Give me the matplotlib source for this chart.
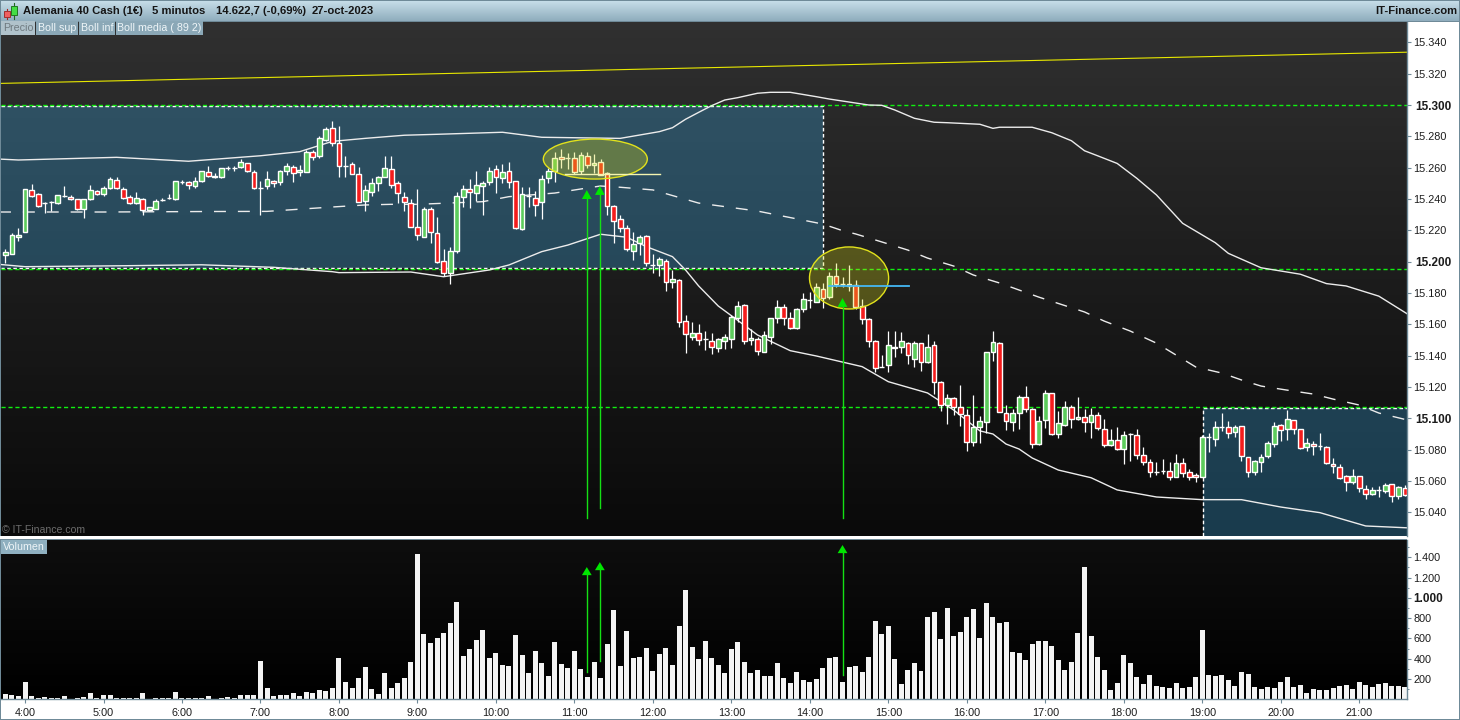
import numpy as np
import matplotlib
matplotlib.use("Agg")
import matplotlib.pyplot as plt
from matplotlib.colors import LinearSegmentedColormap
from matplotlib.patches import Rectangle, Ellipse, Polygon
from matplotlib.ticker import FixedLocator, FixedFormatter

plt.rcParams['font.family'] = ['Liberation Sans', 'DejaVu Sans']
plt.rcParams['lines.scale_dashes'] = False

title_parts = ["Alemania 40 Cash (1€)", "5 minutos", "14.622,7 (-0,69%)", "27-oct-2023"]
time_labels = ["4:00","5:00","6:00","7:00","8:00","9:00","10:00","11:00","12:00","13:00",
               "14:00","15:00","16:00","17:00","18:00","19:00","20:00","21:00"]
time_bars = [3 + 12*i for i in range(18)]
price_ticks = [15040,15060,15080,15100,15120,15140,15160,15180,15200,15220,15240,15260,15280,15300,15320,15340]
vol_ticks = [200,400,600,800,1000,1200,1400]

opens = [
15204.4,15205.0,15215.5,15219.1,15245.5,15243.0,15237.6,15238.0,15237.2,15242.0,
15241.0,15239.7,15233.8,15239.7,15244.9,15243.4,15246.8,15251.9,15246.1,15241.0,
15237.2,15239.7,15232.7,15233.9,15239.3,15240.6,15239.7,15251.0,15250.6,15248.5,
15251.2,15257.0,15255.0,15253.8,15260.0,15260.0,15260.2,15262.7,15257.0,15247.2,
15248.0,15251.2,15250.6,15258.0,15260.2,15257.0,15257.4,15269.7,15267.2,15277.6,
15285.3,15275.5,15261.3,15262.1,15255.7,15239.0,15244.7,15250.4,15254.3,15258.9,
15250.0,15241.5,15237.7,15222.3,15216.0,15233.4,15218.0,15200.2,15192.5,15207.0,
15241.0,15246.2,15244.0,15248.5,15250.6,15259.0,15253.6,15257.7,15251.3,15220.8,
15241.7,15240.4,15238.3,15253.2,15258.1,15266.6,15266.0,15266.0,15258.0,15267.2,
15261.5,15263.4,15256.4,15235.3,15227.0,15221.3,15207.0,15211.7,15216.2,15197.9,
15198.0,15200.6,15187.3,15188.5,15162.3,15152.2,15154.2,15150.4,15149.6,15145.0,
15149.6,15150.8,15163.8,15172.3,15149.8,15150.4,15142.5,15152.1,15163.8,15170.8,
15163.8,15157.4,15169.5,15175.3,15174.4,15182.7,15177.6,15190.6,15186.0,15186.0,
15184.9,15171.9,15163.6,15149.1,15133.0,15133.8,15145.7,15145.3,15148.3,15137.6,
15147.8,15135.7,15146.6,15123.4,15108.7,15113.2,15107.5,15101.9,15085.1,15094.7,
15097.9,15142.2,15147.9,15103.6,15097.7,15103.2,15113.4,15105.8,15083.6,15099.0,
15116.0,15090.0,15096.0,15107.0,15099.4,15101.1,15097.5,15101.9,15093.0,15082.8,
15086.0,15080.7,15090.2,15089.6,15076.4,15071.9,15065.8,15066.6,15066.2,15062.8,
15071.7,15065.6,15064.1,15062.8,15088.3,15087.0,15094.5,15094.3,15091.5,15094.9,
15075.1,15066.0,15072.4,15075.8,15083.4,15095.6,15093.0,15098.7,15093.0,15081.5,
15083.4,15082.6,15081.5,15070.7,15069.2,15063.2,15059.4,15063.2,15054.7,15052.0,
15054.0,15053.8,15057.9,15050.4,15055.8]
highs = [
15208.0,15218.0,15221.2,15246.4,15249.5,15244.0,15238.0,15238.7,15242.5,15248.3,
15242.3,15240.0,15240.0,15248.7,15245.7,15248.3,15254.2,15254.0,15247.4,15242.3,
15244.4,15240.4,15234.9,15239.7,15240.4,15243.1,15251.5,15252.0,15251.2,15254.0,
15257.9,15261.0,15256.3,15259.8,15261.0,15261.2,15265.3,15263.0,15258.3,15251.4,
15257.6,15251.9,15258.3,15262.7,15261.7,15261.4,15271.2,15271.2,15280.2,15286.1,
15289.8,15286.6,15267.5,15263.6,15260.2,15249.0,15253.2,15254.9,15267.5,15267.4,
15251.5,15244.3,15239.8,15246.4,15234.7,15234.7,15228.3,15208.0,15209.6,15244.3,
15249.0,15252.8,15257.9,15251.5,15260.6,15261.7,15262.3,15263.6,15251.6,15247.4,
15247.4,15245.0,15255.3,15259.6,15270.2,15271.7,15269.6,15270.2,15270.2,15270.0,
15268.7,15265.3,15257.4,15235.9,15229.8,15223.4,15218.7,15217.0,15217.0,15204.9,
15202.8,15201.5,15194.7,15189.0,15166.0,15161.3,15160.2,15155.5,15154.2,15151.0,
15153.8,15166.0,15174.9,15173.0,15157.0,15151.7,15155.5,15164.0,15175.5,15173.0,
15167.9,15170.2,15179.8,15180.6,15186.6,15186.2,15193.2,15198.9,15190.4,15197.9,
15188.3,15175.9,15163.8,15150.0,15140.4,15155.7,15155.7,15155.3,15148.9,15149.1,
15148.3,15153.8,15149.1,15123.6,15115.5,15113.8,15121.2,15105.8,15114.9,15101.5,
15142.4,15155.8,15148.5,15108.7,15105.8,15114.7,15120.7,15106.4,15101.5,15118.1,
15116.4,15104.5,15111.1,15108.5,15113.4,15106.0,15106.8,15104.0,15099.4,15093.2,
15094.3,15092.2,15090.9,15093.2,15081.5,15073.8,15072.1,15074.0,15071.9,15077.0,
15074.5,15067.5,15065.3,15089.4,15090.4,15098.3,15103.6,15098.5,15095.6,15095.3,
15075.6,15073.4,15077.0,15085.3,15097.5,15096.4,15105.3,15099.2,15093.2,15087.5,
15085.8,15090.7,15082.4,15074.7,15070.9,15063.8,15067.5,15063.4,15057.3,15056.0,
15057.0,15058.5,15058.1,15056.8,15057.5]
lows = [
15198.9,15205.0,15213.4,15219.0,15241.4,15235.0,15231.0,15232.5,15237.0,15241.4,
15239.3,15233.2,15227.8,15239.3,15242.3,15242.0,15246.6,15246.6,15239.7,15236.8,
15236.8,15229.7,15232.4,15233.4,15238.5,15239.7,15239.5,15249.3,15246.6,15247.2,
15251.0,15254.0,15253.5,15253.6,15258.7,15257.8,15259.5,15257.4,15246.6,15229.7,
15246.6,15247.8,15249.1,15255.3,15250.8,15255.0,15257.2,15264.9,15265.9,15277.2,
15274.0,15254.3,15254.3,15256.0,15238.1,15232.5,15241.9,15245.3,15254.1,15247.2,
15237.7,15232.5,15222.1,15213.8,15215.8,15212.1,15198.9,15190.8,15185.7,15205.3,
15234.7,15234.5,15239.0,15229.8,15249.0,15244.0,15250.4,15247.0,15221.1,15220.0,
15235.0,15229.1,15227.4,15250.0,15250.9,15259.6,15259.0,15256.0,15256.0,15259.8,
15256.8,15255.3,15229.8,15211.7,15219.1,15207.0,15201.0,15204.2,15197.4,15193.0,
15190.8,15181.3,15183.4,15158.5,15141.9,15150.0,15146.8,15143.6,15141.0,15142.5,
15144.2,15144.9,15161.5,15147.4,15146.8,15140.4,15142.3,15147.4,15161.0,15159.5,
15157.0,15157.2,15168.0,15170.6,15174.2,15170.6,15176.0,15183.6,15183.6,15181.3,
15170.0,15160.2,15145.3,15129.8,15132.5,15129.8,15139.3,15141.9,15134.7,15133.0,
15130.4,15135.5,15115.5,15104.9,15096.6,15101.9,15095.3,15079.4,15082.4,15084.5,
15090.4,15136.8,15103.9,15092.8,15092.1,15093.4,15104.1,15081.3,15083.0,15094.1,
15089.4,15087.3,15095.1,15094.1,15098.9,15091.5,15087.7,15092.6,15081.9,15082.4,
15080.0,15070.9,15073.0,15074.3,15070.2,15062.8,15064.1,15064.5,15060.7,15062.4,
15062.8,15060.7,15059.4,15062.6,15078.5,15082.4,15092.1,15087.7,15087.9,15073.0,
15062.8,15064.0,15065.8,15074.7,15081.9,15085.8,15086.2,15090.0,15080.7,15079.2,
15076.6,15079.8,15070.9,15065.3,15061.5,15053.6,15058.3,15053.0,15048.5,15051.3,
15050.0,15052.1,15046.8,15048.5,15050.4]
closes = [
15206.1,15216.8,15216.8,15246.1,15242.1,15235.7,15237.6,15238.0,15242.3,15242.0,
15239.7,15233.4,15239.7,15245.5,15243.0,15246.8,15252.5,15246.8,15240.4,15237.2,
15240.4,15232.7,15234.6,15238.5,15239.3,15240.6,15251.2,15251.0,15248.7,15251.2,
15257.6,15254.4,15253.8,15259.5,15260.0,15260.0,15263.4,15257.6,15246.8,15247.2,
15252.5,15250.0,15257.6,15260.8,15256.3,15258.3,15269.7,15266.6,15278.7,15284.6,
15275.5,15261.3,15261.3,15256.2,15238.3,15245.5,15250.4,15253.8,15259.6,15249.1,
15243.6,15238.3,15222.3,15216.8,15233.4,15218.7,15200.0,15192.5,15206.6,15241.7,
15246.2,15244.7,15248.7,15250.0,15257.7,15253.8,15257.0,15250.6,15221.3,15243.0,
15241.7,15236.4,15252.6,15257.7,15266.0,15265.3,15266.0,15257.4,15267.9,15262.0,
15262.8,15255.5,15235.3,15226.2,15221.7,15207.9,15211.0,15215.5,15199.0,15197.9,
15201.5,15186.8,15189.2,15161.7,15153.6,15154.2,15149.8,15150.4,15145.7,15150.4,
15151.7,15164.4,15171.7,15149.6,15151.3,15143.2,15153.4,15163.8,15171.3,15163.8,
15157.8,15170.0,15176.0,15175.3,15183.6,15177.0,15190.6,15186.0,15186.0,15184.4,
15171.3,15163.2,15149.1,15131.9,15133.0,15146.6,15144.7,15149.1,15140.2,15148.3,
15135.7,15145.7,15122.9,15108.3,15112.7,15107.0,15102.8,15084.9,15094.3,15098.5,
15142.2,15148.5,15104.3,15098.1,15103.6,15113.4,15106.2,15083.6,15098.5,15116.0,
15090.0,15096.8,15107.5,15099.6,15101.1,15097.7,15101.9,15093.6,15083.2,15086.0,
15080.2,15089.2,15090.2,15076.8,15071.9,15065.6,15065.8,15066.6,15062.8,15071.7,
15065.3,15062.8,15062.4,15087.9,15088.3,15094.3,15094.5,15090.9,15094.3,15076.0,
15065.6,15073.0,15075.1,15084.0,15094.9,15092.4,15099.4,15093.0,15081.3,15084.0,
15082.2,15082.6,15071.3,15069.4,15062.1,15059.2,15063.2,15055.5,15051.5,15054.0,
15054.0,15057.2,15050.2,15056.2,15051.3]
volumes = [
49,39,30,167,30,10,20,10,10,30,0,10,20,59,10,39,39,10,10,10,
10,59,0,10,10,10,69,10,10,10,10,30,0,10,20,10,39,39,39,374,
108,30,39,39,59,30,69,59,89,79,108,403,167,108,207,315,98,49,256,108,
157,207,364,1427,640,551,600,650,748,954,423,492,581,679,403,453,335,325,630,433,
256,472,354,226,561,344,305,472,295,216,364,207,541,876,325,669,403,413,502,276,
443,502,335,718,1073,512,394,571,403,335,256,492,561,364,256,285,226,226,354,207,
157,266,187,167,197,305,403,413,167,315,325,266,413,768,640,718,394,148,285,354,
276,807,856,590,895,620,659,807,885,600,945,807,748,758,462,453,384,541,571,571,
522,384,285,364,650,1299,620,413,285,89,157,433,354,216,148,236,128,118,108,157,
108,118,216,679,236,226,236,187,128,266,246,118,98,118,108,167,216,118,138,59,
98,89,89,108,128,138,98,167,138,118,148,157,128,128,118]

upper_bars = [-1,2,17,28,39,45,50,55,61,66,76,82,94,100,102,104,106,108,110,112,115,117,120,124,126,132,134,136,139,142,144,149,151,152,157,160,163,165,167,170,173,176,180,185,187,192,198,202,205,210,215]
upper_vals = [15265.5,15264.9,15266.6,15264.1,15267.6,15270.2,15276.8,15278.7,15280.7,15281.3,15282.6,15279.4,15278.7,15283.0,15285.5,15290.9,15295.3,15299.6,15303.2,15304.7,15307.5,15308.1,15308.1,15305.3,15303.8,15300.0,15299.8,15296.8,15291.5,15289.0,15288.7,15287.7,15285.1,15285.8,15285.8,15282.3,15277.2,15270.8,15267.6,15262.7,15253.2,15242.6,15224.5,15212.1,15205.3,15196.1,15192.0,15186.0,15184.5,15178.0,15165.0]
middle_bars = [-1,15,30,40,50,55,59,63,73,77,84,88,91,94,99,106,115,125,128,130,134,138,141,145,148,152,158,165,168,172,176,179,182,186,189,192,196,200,203,207,210,215]
middle_vals = [15231.7,15231.7,15232.0,15232.1,15234.9,15236.2,15236.6,15236.6,15238.3,15241.5,15243.8,15246.4,15248.3,15247.5,15245.8,15237.4,15232.3,15224.0,15219.8,15217.7,15212.6,15207.4,15202.3,15197.2,15191.5,15186.4,15177.4,15167.9,15162.1,15155.7,15148.0,15140.4,15132.8,15128.9,15124.5,15120.6,15118.0,15115.5,15112.3,15108.5,15103.4,15098.3]
lower_bars = [-1,3,18,30,41,50,51,62,67,74,77,82,86,91,95,98,102,104,106,109,115,120,124,131,135,141,145,149,151,153,155,157,161,166,170,176,183,189,195,201,208,215]
lower_vals = [15198.3,15196.8,15197.4,15198.0,15196.4,15193.6,15193.0,15193.4,15190.4,15194.7,15197.9,15206.4,15210.6,15217.5,15215.6,15209.6,15203.2,15194.7,15184.5,15171.7,15153.2,15143.2,15139.8,15133.0,15123.4,15116.2,15105.3,15092.0,15090.0,15083.6,15080.4,15074.7,15067.0,15062.1,15054.3,15049.8,15048.1,15048.1,15043.4,15039.8,15031.3,15030.0]

support_levels = [15300.3, 15195.3, 15107.0]
trend_bars = [-0.67, 214.3]
trend_vals = [15313.8, 15333.7]
price_arrow_bars = [88.9, 90.9, 128.0]
price_arrow_tails = [15036.4, 15042.8, 15036.4]
price_arrow_tips = [15245.7, 15248.3, 15176.8]
vol_arrow_tails = [269, 377, 239]
vol_arrow_tips = [1303, 1352, 1520]

W, H = 1460, 720
PX_PER_BAR = 6.54
X0 = 5.4
LEFT, RIGHT = 1, 1407
XLIM = ((LEFT - X0) / PX_PER_BAR, (RIGHT - X0) / PX_PER_BAR)

fig = plt.figure(figsize=(W/100, H/100), dpi=100, facecolor='white')

def pos(x0, y0, x1, y1):
    return [x0/W, 1 - y1/H, (x1-x0)/W, (y1-y0)/H]

AXC = '#6f8a98'
TXT = '#1c1c1c'

chrome = fig.add_axes([0, 0, 1, 1], zorder=0)
chrome.set_xlim(0, W); chrome.set_ylim(H, 0); chrome.axis('off')
grad = np.linspace(0, 1, 64).reshape(-1, 1)
hdr = LinearSegmentedColormap.from_list('h', ['#c6dde8', '#8fadbd'])
chrome.imshow(grad, extent=(0, W, 21, 1), aspect='auto', cmap=hdr, zorder=1)
chrome.set_xlim(0, W); chrome.set_ylim(H, 0)
for rect in [(0, 0, W, 1.2), (0, 20.5, W, 1.2), (0, 718.6, W, 1.4), (0, 0, 1, H), (W-1, 0, 1, H)]:
    chrome.add_patch(Rectangle(rect[:2], rect[2], rect[3], fc=AXC, ec='none', zorder=2))
chrome.add_patch(Rectangle((0, 536), RIGHT, 3.4, fc='white', ec='none', zorder=2))
chrome.add_patch(Rectangle((0, 538.6), RIGHT, 0.9, fc=AXC, ec='none', zorder=3))

# header icon
chrome.plot([6.5, 6.5], [8.5, 18.5], color='#aa2222', lw=0.8, zorder=3)
chrome.add_patch(Rectangle((3.5, 10.5), 6, 6, fc='#f06060', ec='#a03030', lw=0.7, zorder=4))
chrome.plot([14, 14], [3, 19], color='#226622', lw=0.8, zorder=3)
chrome.add_patch(Rectangle((11, 6), 6, 9, fc='#44dd44', ec='#227722', lw=0.7, zorder=4))

for x, s in zip([23, 152, 216, 312], title_parts):
    chrome.text(x, 11, s, fontsize=8.1, fontweight='bold', color='#151515', va='center', ha='left', zorder=5)
chrome.text(1457, 11, 'IT-Finance.com', fontsize=8.1, fontweight='bold', color='#151515', va='center', ha='right', zorder=5)

# ---------- price panel
ax = fig.add_axes(pos(LEFT, 22, RIGHT, 536), zorder=1)
bg = LinearSegmentedColormap.from_list('b', ['#303030', '#1c1c1c', '#0a0a0a'])
ax.imshow(grad, extent=(0, 1, 0, 1), transform=ax.transAxes, aspect='auto', cmap=bg, zorder=0)

px2p = 1 / 1.5667
ax.set_xlim(*XLIM)
ax.set_ylim(15300 - (536-105)*px2p, 15300 + (105-22)*px2p)

zone_fc = (58/255, 164/255, 220/255, 0.32)
zones = [(XLIM[0], 125.0, 15195.8, 15299.4), (183.05, XLIM[1], ax.get_ylim()[0], 15106.6)]
for a, b, lo, hi in zones:
    ax.add_patch(Rectangle((a, lo), b-a, hi-lo, fc=zone_fc, ec='none', zorder=1))
wd = (0, (2.6, 1.8))
ax.plot([XLIM[0], 125, 125, XLIM[0]], [15299.4, 15299.4, 15195.8, 15195.8], color='white', lw=1.0, ls=wd, zorder=2)
ax.plot([183.05, 183.05, XLIM[1]], [ax.get_ylim()[0], 15106.6, 15106.6], color='white', lw=1.0, ls=wd, zorder=2)

ax.plot(trend_bars, trend_vals, color='#e8e800', lw=0.8, zorder=2)
for lv in support_levels:
    ax.axhline(lv, color='#10f010', lw=1.0, ls=(0, (3.0, 2.0)), zorder=2.2)

ax.plot(upper_bars, upper_vals, color='#ececec', lw=1.0, zorder=2.5)
ax.plot(lower_bars, lower_vals, color='#ececec', lw=1.0, zorder=2.5)
ax.plot(middle_bars, middle_vals, color='#ececec', lw=1.0, ls=(0, (8.6, 8.6)), zorder=2.5)

idx = np.arange(len(opens))
o, h, l, c = map(np.array, (opens, highs, lows, closes))
ax.vlines(idx, l, h, color='white', lw=0.9, zorder=3)
colors = np.where(c > o, '#5ccc5c', np.where(c < o, '#f41c1c', '#ffffff'))
ax.bar(idx, np.abs(c-o), bottom=np.minimum(o, c), width=4.8/PX_PER_BAR, color=colors,
       edgecolor='white', linewidth=1.0, zorder=3.5)

# ellipses
ax.add_patch(Ellipse((90.2, 15265.5), 15.9, 25.5, fc=(0.85, 0.85, 0.1, 0.32), ec='#e2e21c', lw=1.0, zorder=4))
ax.add_patch(Ellipse((129.0, 15189.6), 12.1, 39.6, fc=(0.85, 0.85, 0.1, 0.30), ec='#e2e21c', lw=1.0, zorder=4))
ax.plot([85.5, 100.1], [15256, 15256], color='#f4f4b0', lw=1.0, zorder=4.2)
ax.plot([126.0, 138.2], [15184.2, 15184.2], color='#45b8f4', lw=1.3, zorder=4.2)

# arrows
for b, t0, t1 in zip(price_arrow_bars, price_arrow_tails, price_arrow_tips):
    ax.plot([b, b], [t0, t1-5], color='#14e014', lw=1.0, zorder=4.5)
    ax.add_patch(Polygon([(b-0.75, t1-5.7), (b+0.75, t1-5.7), (b, t1)], fc='#00e600', ec='none', zorder=4.6))

ax.yaxis.tick_right()
ax.yaxis.set_major_locator(FixedLocator(price_ticks))
ax.yaxis.set_major_formatter(FixedFormatter([f"{p/1000:.3f}" for p in price_ticks]))
ax.tick_params(axis='y', which='major', length=3.2, width=0.8, color=AXC, pad=1.5, labelsize=7.8, labelcolor=TXT)
ax.set_xticks([])
for t, p in zip(ax.yaxis.get_major_ticks(), price_ticks):
    if p % 100 == 0:
        t.label2.set_fontweight('bold'); t.label2.set_fontsize(8.5); t.set_pad(3.0)
for s in ax.spines.values():
    s.set_visible(False)
ax.spines['right'].set_visible(True); ax.spines['right'].set_color(AXC); ax.spines['right'].set_linewidth(1.0)

# legend chips
chips = [("Precio", 1, 35, '#b0c2cb', '#6f7a80'), ("Boll sup", 36, 78, '#8ba8b7', '#eef5f8'),
         ("Boll inf", 79, 115, '#8ba8b7', '#eef5f8'), ("Boll media ( 89 2)", 116, 203, '#8ba8b7', '#eef5f8')]
top = fig.add_axes([0, 0, 1, 1], zorder=3)
top.set_xlim(0, W); top.set_ylim(H, 0); top.axis('off'); top.patch.set_alpha(0)
for s, a, b, fc, tc in chips:
    top.add_patch(Rectangle((a, 21), b-a, 14, fc=fc, ec='none'))
    top.text((a+b)/2, 28, s, fontsize=7.7, color=tc, ha='center', va='center')
top.add_patch(Rectangle((1, 539.5), 46, 14, fc='#8fb0c0', ec='none'))
top.text(24, 546.5, 'Volumen', fontsize=7.7, color='#eef5f8', ha='center', va='center')
top.text(2, 530, '© IT-Finance.com', fontsize=7.6, color='#6c6c6c', ha='left', va='center')

# ---------- volume panel
ax2 = fig.add_axes(pos(LEFT, 539.5, RIGHT, 699.3), zorder=1)
bg2 = LinearSegmentedColormap.from_list('v', ['#0e0e0e', '#000000'])
ax2.imshow(grad, extent=(0, 1, 0, 1), transform=ax2.transAxes, aspect='auto', cmap=bg2, zorder=0)
ax2.set_xlim(*XLIM)
ax2.set_ylim(0, (699.3-539.5)*200/20.3)
ax2.bar(idx, volumes, width=5.0/PX_PER_BAR, color='#f4f4f4', linewidth=0, zorder=2)
for b, t0, t1 in zip(price_arrow_bars, vol_arrow_tails, vol_arrow_tips):
    ax2.plot([b, b], [t0, t1-70], color='#14e014', lw=1.0, zorder=3)
    ax2.add_patch(Polygon([(b-0.75, t1-80), (b+0.75, t1-80), (b, t1)], fc='#00e600', ec='none', zorder=3.1))

ax2.yaxis.tick_right()
ax2.yaxis.set_major_locator(FixedLocator(vol_ticks))
ax2.yaxis.set_major_formatter(FixedFormatter([f"{v/1000:.3f}" if v >= 1000 else str(v) for v in vol_ticks]))
ax2.set_yticks([100, 300, 500, 700, 900, 1100, 1300, 1500], minor=True)
ax2.tick_params(axis='y', which='major', length=3.2, width=0.8, color=AXC, pad=1.5, labelsize=7.8, labelcolor=TXT)
ax2.tick_params(axis='y', which='minor', length=1.6, width=0.7, color=AXC)
for t, v in zip(ax2.yaxis.get_major_ticks(), vol_ticks):
    if v == 1000:
        t.label2.set_fontweight('bold'); t.label2.set_fontsize(8.5)
ax2.set_xticks(time_bars)
ax2.set_xticklabels(time_labels)
ax2.tick_params(axis='x', length=3.0, width=0.8, color=AXC, pad=3.5, labelsize=7.8, labelcolor=TXT)
for s in ax2.spines.values():
    s.set_visible(False)
for k in ('right', 'bottom'):
    ax2.spines[k].set_visible(True); ax2.spines[k].set_color(AXC); ax2.spines[k].set_linewidth(1.0)

fig.savefig('out.png', dpi=100, facecolor='white')
